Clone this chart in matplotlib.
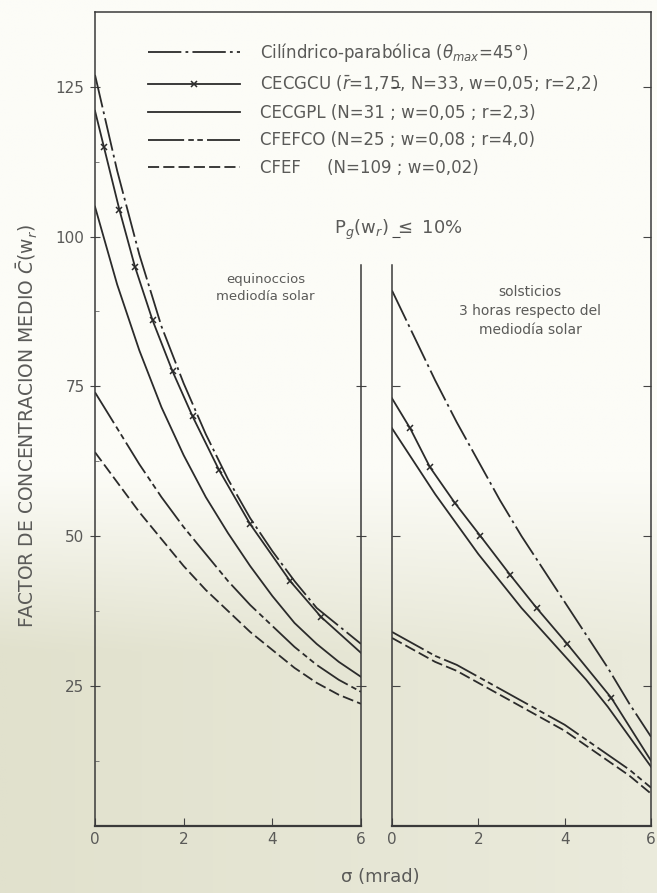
import numpy as np
import matplotlib.pyplot as plt
from matplotlib.lines import Line2D
from matplotlib.colors import LinearSegmentedColormap

plt.rcParams['lines.scale_dashes'] = False
plt.rcParams['font.family'] = ['DejaVu Sans']

# sigma (mrad) sample points
sig = [0, 0.5, 1, 1.5, 2, 2.5, 3, 3.5, 4, 4.5, 5, 5.5, 6]

# equinoccios, mediodia solar
eq_cp = [127, 111, 97, 85, 75.5, 67, 59.5, 53, 47.5, 42.5, 38, 35, 32]
eq_cecgcu_sig = [0, 0.2, 0.55, 0.9, 1.3, 1.75, 2.2, 2.8, 3.5, 4.4, 5.1, 6]
eq_cecgcu = [121, 115, 104.5, 95, 86, 77.5, 70, 61, 52, 42.5, 36.5, 30.5]
eq_cecgpl = [105, 92, 81, 71.5, 63.5, 56.5, 50.5, 45, 40, 35.5, 32, 29, 26.5]
eq_cfefco = [74, 68, 62, 56.5, 51.5, 47, 42.5, 38.5, 35, 31.5, 28.5, 26, 24]
eq_cfef = [64, 59, 54, 49.5, 45, 41, 37.5, 34, 31, 28, 25.5, 23.5, 22]

# solsticios, 3 horas respecto del mediodia solar
so_cp = [91, 83.5, 76, 69, 62.5, 56, 50, 44.5, 39, 33.5, 28, 22, 16.5]
so_cecgcu_sig = [0, 0.42, 0.88, 1.46, 2.05, 2.74, 3.35, 4.06, 5.08, 6]
so_cecgcu = [73, 68, 61.5, 55.5, 50, 43.5, 38, 32, 23, 12.5]
so_cecgpl = [68, 62.5, 57, 52, 47, 42.5, 38, 34, 30, 26, 21.5, 16.5, 11.5]
so_cfefco = [34, 32, 30, 28.5, 26.5, 24.5, 22.5, 20.5, 18.5, 16, 13.5, 11, 8]
so_cfef = [33, 31, 29, 27.5, 25.5, 23.5, 21.5, 19.5, 17.5, 15, 12.5, 10, 7]

labels = [
    r"Cilíndrico-parabólica ($\theta_{max}$=45°)",
    r"CECGCU ($\bar{r}$=1,75, N=33, w=0,05; r=2,2)",
    "CECGPL (N=31 ; w=0,05 ; r=2,3)",
    "CFEFCO (N=25 ; w=0,08 ; r=4,0)",
    "CFEF     (N=109 ; w=0,02)",
]
yticks = [25, 50, 75, 100, 125]
xticks = [0, 2, 4, 6]

ink = '#2b2b2b'
txt = '#5a5a58'
ls_cp = (0, (24, 3, 2, 3))
ls_co = (0, (26, 3, 4, 2.5, 4, 3))
ls_ef = (0, (8, 3))

fig = plt.figure(figsize=(6.57, 8.93), dpi=100)

# faded scan background (white on top, beige lower down)
bg = fig.add_axes([0, 0, 1, 1], zorder=-10)
bg.axis('off')
yy = np.linspace(0, 1, 300)[:, None]
xx = np.linspace(0, 1, 200)[None, :]
shade = np.clip((yy - 0.53) / 0.2, 0, 1) * (1 - 0.35 * xx)
cmap = LinearSegmentedColormap.from_list('scan', ['#fcfcf7', '#e1e1cd'])
bg.imshow(shade, cmap=cmap, extent=[0, 1, 0, 1], aspect='auto',
          vmin=0, vmax=1, origin='upper')
bg.set_xlim(0, 1)
bg.set_ylim(0, 1)

ylo, yhi, ydiv = 1.6, 137.5, 95.3
axL = fig.add_axes([95/657, 1-826/893, 266/657, 814/893])
axR = fig.add_axes([392/657, 1-826/893, 259/657, 814/893])

axL.plot(sig, eq_cp, color=ink, lw=1.3, ls=ls_cp, label=labels[0])
axL.plot(eq_cecgcu_sig, eq_cecgcu, color=ink, lw=1.3, marker='x', ms=5,
         mew=1.1, markevery=slice(1, -1), label=labels[1])
axL.plot(sig, eq_cecgpl, color=ink, lw=1.3, label=labels[2])
axL.plot(sig, eq_cfefco, color=ink, lw=1.3, ls=ls_co, label=labels[3])
axL.plot(sig, eq_cfef, color=ink, lw=1.3, ls=ls_ef, label=labels[4])

axR.plot(sig, so_cp, color=ink, lw=1.3, ls=ls_cp)
axR.plot(so_cecgcu_sig, so_cecgcu, color=ink, lw=1.3, marker='x', ms=5,
         mew=1.1, markevery=slice(1, -1))
axR.plot(sig, so_cecgpl, color=ink, lw=1.3)
axR.plot(sig, so_cfefco, color=ink, lw=1.3, ls=ls_co)
axR.plot(sig, so_cfef, color=ink, lw=1.3, ls=ls_ef)

for ax in (axL, axR):
    ax.set_facecolor('none')
    ax.set_xlim(0, 6)
    ax.set_ylim(ylo, yhi)
    ax.spines['top'].set_visible(False)
    for s in ax.spines.values():
        s.set_color('#3a3a3a')
        s.set_linewidth(1.1)
    ax.spines['bottom'].set_linewidth(1.6)
    ax.set_xticks(xticks)
    ax.set_xticklabels([str(v) for v in xticks])
    ax.tick_params(axis='x', direction='in', length=6, pad=4,
                   labelsize=11, labelcolor=txt, color='#444')
    ax.set_yticks(yticks)

axL.spines['right'].set_bounds(ylo, ydiv)
axR.spines['left'].set_bounds(ylo, ydiv)

axL.set_yticklabels([str(v) for v in yticks])
axL.set_yticks([12.5, 37.5, 62.5, 87.5, 112.5], minor=True)
axL.tick_params(axis='y', which='major', direction='inout', length=7,
                left=True, right=True, pad=4, labelsize=11, labelcolor=txt,
                color='#444')
axL.tick_params(axis='y', which='minor', direction='in', length=3,
                left=True, right=False, color='#666')
axR.tick_params(axis='y', direction='in', length=6, left=True, right=True,
                labelleft=False, color='#444')
for t in axL.yaxis.get_major_ticks():
    if t.get_loc() > ydiv:
        t.tick2line.set_visible(False)
for t in axR.yaxis.get_major_ticks():
    if t.get_loc() > ydiv:
        t.tick1line.set_visible(False)

# top border of the frame
fig.add_artist(Line2D([95/657, 651/657], [1-12/893, 1-12/893],
                      color='#3a3a3a', lw=1.1))

axL.text(3.85, 91.4, "equinoccios\nmediodía solar", ha='center', va='center',
         fontsize=9.5, color=txt, linespacing=1.4)
axR.text(3.2, 87.6, "solsticios\n3 horas respecto del\nmediodía solar",
         ha='center', va='center', fontsize=10, color=txt, linespacing=1.45)

fig.text(398/657, 1-230/893, r"P$_g$(w$_r$) $\leq$ 10%", ha='center',
         va='center', fontsize=13, color=txt)
fig.text(27/657, 1-426/893, r"FACTOR DE CONCENTRACION MEDIO $\bar{C}$(w$_r$)",
         rotation=90, ha='center', va='center', fontsize=13.5, color=txt)
fig.text(380/657, 1-877/893, "σ (mrad)", ha='center', va='center',
         fontsize=13, color=txt)

axL.legend(loc='upper left', bbox_to_anchor=(148/657, 1-41/893),
           bbox_transform=fig.transFigure, frameon=False, fontsize=12,
           handlelength=5.5, handletextpad=1.2, labelspacing=0.58,
           borderpad=0, borderaxespad=0, labelcolor=txt)

fig.savefig('out.png', dpi=100)
